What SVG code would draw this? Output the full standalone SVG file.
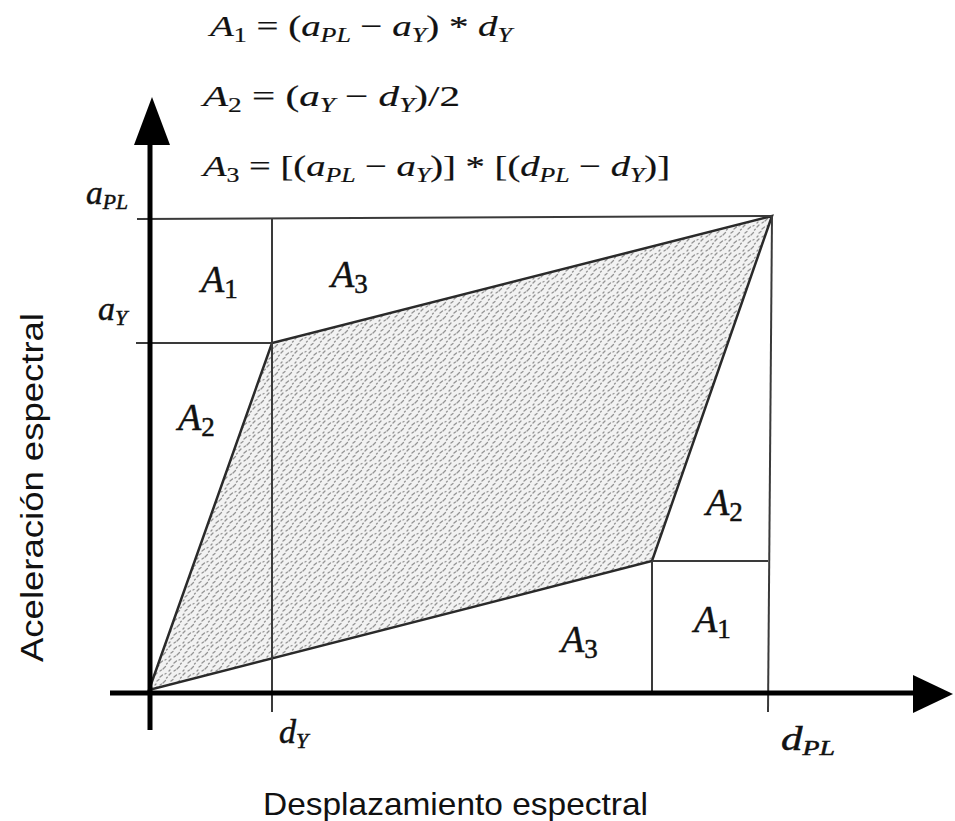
<svg xmlns="http://www.w3.org/2000/svg" width="955" height="821" viewBox="0 0 955 821">
<defs>
<style>
.f{font-family:"Liberation Serif","Times New Roman",serif;font-style:italic;fill:#111;stroke:#111;stroke-width:0.5}
#formulas{stroke-width:0.2}
.s{font-family:"Liberation Sans",Arial,sans-serif;fill:#111}
.grid{stroke:#3a3a3a;stroke-width:2;fill:none}
.axis{stroke:#000;stroke-width:5;fill:none}
.edge{stroke:#2a2a2a;stroke-width:2.5;fill:url(#stip)}
</style>
<pattern id="stip" width="14" height="14" patternUnits="userSpaceOnUse">
<rect width="14" height="14" fill="#f2f2f2"/>
<g stroke="#949494" stroke-width="1.3" stroke-linecap="round">
<line x1="1" y1="3" x2="3" y2="1"/>
<line x1="6" y1="5" x2="8.5" y2="3"/>
<line x1="11" y1="2" x2="12" y2="1.5"/>
<line x1="3" y1="9" x2="5" y2="7.5"/>
<line x1="9" y1="11" x2="11.5" y2="8.5"/>
<line x1="1" y1="13" x2="2" y2="12"/>
<line x1="6" y1="13" x2="7.5" y2="12"/>
<line x1="12.5" y1="6" x2="13.3" y2="5.2"/>
</g>
</pattern>
</defs>
<rect width="955" height="821" fill="#fff"/>

<g id="formulas" class="f" font-size="30">
<text x="210" y="36" textLength="302" lengthAdjust="spacingAndGlyphs">A<tspan font-size="20" font-style="normal" dy="6">1</tspan><tspan dy="-6" font-style="normal"> = (</tspan>a<tspan font-size="20" dy="6">PL</tspan><tspan dy="-6" font-style="normal"> − </tspan>a<tspan font-size="20" dy="6">Y</tspan><tspan dy="-6" font-style="normal">) * </tspan>d<tspan font-size="20" dy="6">Y</tspan></text>
<text x="203" y="106" textLength="257" lengthAdjust="spacingAndGlyphs">A<tspan font-size="20" font-style="normal" dy="6">2</tspan><tspan dy="-6" font-style="normal"> = (</tspan>a<tspan font-size="20" dy="6">Y</tspan><tspan dy="-6" font-style="normal"> − </tspan>d<tspan font-size="20" dy="6">Y</tspan><tspan dy="-6" font-style="normal">)/2</tspan></text>
<text x="203" y="176" textLength="467" lengthAdjust="spacingAndGlyphs">A<tspan font-size="20" font-style="normal" dy="6">3</tspan><tspan dy="-6" font-style="normal"> = [(</tspan>a<tspan font-size="20" dy="6">PL</tspan><tspan dy="-6" font-style="normal"> − </tspan>a<tspan font-size="20" dy="6">Y</tspan><tspan dy="-6" font-style="normal">)] * [(</tspan>d<tspan font-size="20" dy="6">PL</tspan><tspan dy="-6" font-style="normal"> − </tspan>d<tspan font-size="20" dy="6">Y</tspan><tspan dy="-6" font-style="normal">)]</tspan></text>
</g>

<g id="shaded-area">
<polygon class="edge" points="149,690 272,343 772,216 652,561"/>
</g>

<g id="connectors">
<line class="grid" x1="137" y1="219" x2="772" y2="216"/>
<line class="grid" x1="136" y1="343" x2="272" y2="343"/>
<line class="grid" x1="272" y1="219" x2="272" y2="712"/>
<line class="grid" x1="772" y1="216" x2="768" y2="712"/>
<line class="grid" x1="652" y1="561" x2="768" y2="561"/>
<line class="grid" x1="652" y1="561" x2="652" y2="693"/>
<line class="axis" x1="150" y1="730" x2="150" y2="140"/>
<line class="axis" x1="110" y1="693" x2="915" y2="693"/>
<polygon points="152,97 134,145 170,145" fill="#000"/>
<polygon points="953,694 913,675 913,713" fill="#000"/>
</g>

<g id="area-labels" class="f" font-size="38">
<text x="201" y="292">A<tspan font-size="27" font-style="normal" dy="6">1</tspan></text>
<text x="331" y="287">A<tspan font-size="27" font-style="normal" dy="6">3</tspan></text>
<text x="178" y="430">A<tspan font-size="27" font-style="normal" dy="6">2</tspan></text>
<text x="706" y="515">A<tspan font-size="27" font-style="normal" dy="6">2</tspan></text>
<text x="561" y="652">A<tspan font-size="27" font-style="normal" dy="6">3</tspan></text>
<text x="694" y="632">A<tspan font-size="27" font-style="normal" dy="6">1</tspan></text>
</g>

<g id="axis-ticks-labels" class="f" font-size="34">
<text x="86" y="204" textLength="42" lengthAdjust="spacingAndGlyphs">a<tspan font-size="22" dy="5">PL</tspan></text>
<text x="98" y="320">a<tspan font-size="22" dy="5">Y</tspan></text>
<text x="279" y="743">d<tspan font-size="22" dy="5">Y</tspan></text>
<text x="781" y="750" textLength="54" lengthAdjust="spacingAndGlyphs">d<tspan font-size="22" dy="5">PL</tspan></text>
</g>

<g id="axis-titles" class="s">
<text x="263" y="815" font-size="32" textLength="385" lengthAdjust="spacingAndGlyphs">Desplazamiento espectral</text>
<text transform="translate(43,662) rotate(-90)" font-size="31" textLength="349" lengthAdjust="spacingAndGlyphs">Aceleración espectral</text>
</g>
</svg>
